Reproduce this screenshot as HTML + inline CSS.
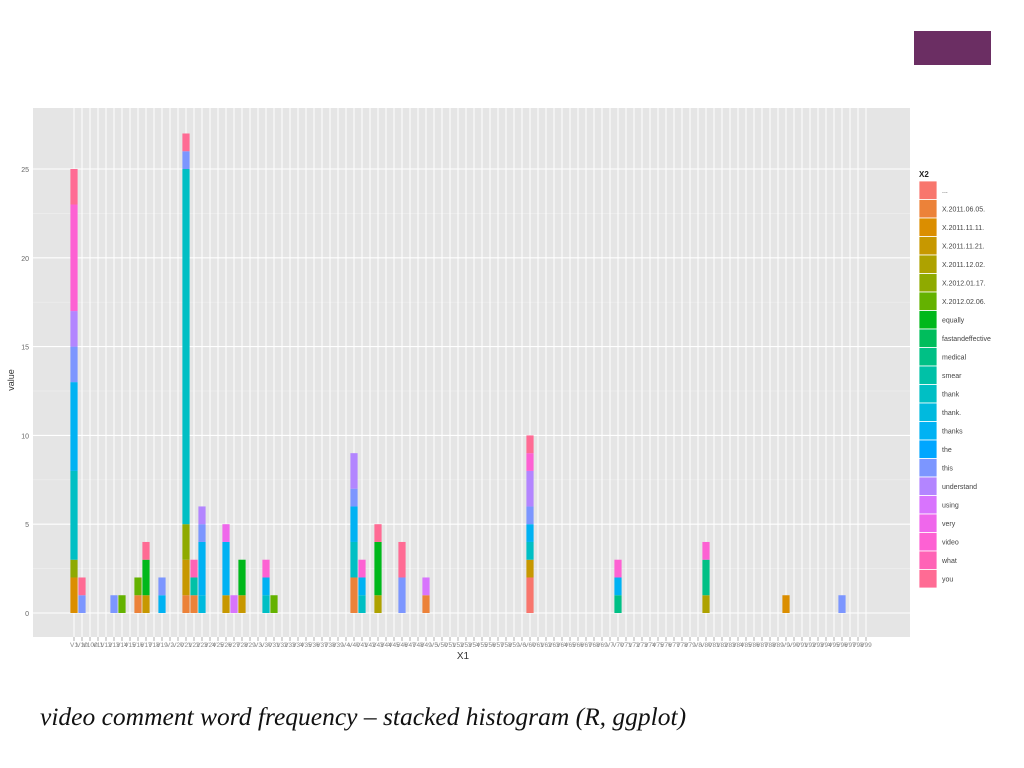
<!DOCTYPE html>
<html><head><meta charset="utf-8"><style>
body{margin:0;background:#fff;width:1024px;height:768px;overflow:hidden;position:relative;font-family:"Liberation Sans",sans-serif}
#cap{position:absolute;left:40px;top:702px;font-family:"Liberation Serif",serif;font-style:italic;font-size:25.5px;color:#111;white-space:nowrap}
#badge{position:absolute;left:914px;top:31px;width:77px;height:34px;background:#6b2e63}
</style></head><body>
<div id="badge"></div>
<svg id="chart" width="1024" height="700" style="position:absolute;left:0;top:0"></svg>
<div id="cap">video comment word frequency – stacked histogram (R, ggplot)</div>
<script>
const levels=["...","X.2011.06.05.","X.2011.11.11.","X.2011.11.21.","X.2011.12.02.","X.2012.01.17.","X.2012.02.06.","equally","fastandeffective","medical","smear","thank","thank.","thanks","the","this","understand","using","very","video","what","you"];
const barIndex=[0,1,5,6,8,9,11,14,15,16,19,20,21,24,25,35,36,38,41,44,57,68,79,89,96];
const barSegments=[
[[2,2],[5,1],[11,5],[13,5],[15,2],[16,2],[19,6],[21,2]],
[[15,1],[21,1]],
[[15,1]],
[[6,1]],
[[1,1],[6,1]],
[[3,1],[7,2],[21,1]],
[[13,1],[15,1]],
[[1,1],[3,2],[5,2],[11,20],[15,1],[21,1]],
[[1,1],[10,1],[20,1]],
[[12,1],[13,3],[15,1],[16,1]],
[[3,1],[13,3],[18,1]],
[[17,1]],
[[3,1],[7,2]],
[[11,1],[13,1],[19,1]],
[[6,1]],
[[1,2],[11,2],[13,2],[15,1],[16,2]],
[[11,1],[13,1],[19,1]],
[[4,1],[7,3],[21,1]],
[[15,2],[21,2]],
[[1,1],[17,1]],
[[0,2],[3,1],[11,1],[13,1],[15,1],[16,2],[19,1],[21,1]],
[[9,1],[13,1],[19,1]],
[[4,1],[9,2],[19,1]],
[[2,1]],
[[15,1]]
];
const yTicks=[0,5,10,15,20,25];
const nCats=100;

function hcl2(h,c,l){const hr=h*Math.PI/180,U=c*Math.cos(hr),V=c*Math.sin(hr);
const Xn=0.95047,Yn=1,Zn=1.08883,d=Xn+15*Yn+3*Zn,un=4*Xn/d,vn=9*Yn/d;
const Y=l>8?Math.pow((l+16)/116,3):l/903.3;const u=U/(13*l)+un,v=V/(13*l)+vn;
const X=9*Y*u/(4*v),Z=(12-3*u-20*v)*Y/(4*v);
let r=3.2406*X-1.5372*Y-0.4986*Z,g=-0.9689*X+1.8758*Y+0.0415*Z,b=0.0557*X-0.2040*Y+1.0570*Z;
const f=x=>{x=x<=0.0031308?12.92*x:1.055*Math.pow(x,1/2.4)-0.055;return Math.round(Math.max(0,Math.min(1,x))*255)};
return `rgb(${f(r)},${f(g)},${f(b)})`;}
const cols=levels.map((_,i)=>hcl2(15+i*360/levels.length,100,65));
const NS="http://www.w3.org/2000/svg",svg=document.getElementById('chart');
function mk(t,a,p){const e=document.createElementNS(NS,t);for(const k in a)e.setAttribute(k,a[k]);(p||svg).appendChild(e);return e;}
const PX0=33,PX1=910,PY0=108,PY1=637,X0=74,DX=8.0,Y0=613,UY=17.76;
const xs=i=>X0+i*DX, ys=v=>Y0-v*UY;
const panel=mk('rect',{x:PX0,y:PY0,width:PX1-PX0,height:PY1-PY0,fill:'#e5e5e5'});


for(let v=2.5;v<27.5;v+=5){mk('line',{x1:PX0,x2:PX1,y1:ys(v),y2:ys(v),stroke:'#f0f0f0','stroke-width':0.6});}
yTicks.forEach(v=>{mk('line',{x1:PX0,x2:PX1,y1:ys(v),y2:ys(v),stroke:'#fff','stroke-width':1.1});
const t=mk('text',{x:29,y:ys(v)+3,'font-size':7,fill:'#666','text-anchor':'end'});t.textContent=v;

});
const labs=[];for(let i=1;i<=nCats;i++)labs.push('V'+i);labs.sort();
for(let i=0;i<nCats;i++){const x=xs(i);mk('line',{x1:x,x2:x,y1:PY0,y2:PY1,stroke:'#fff','stroke-width':1});
mk('line',{x1:x,x2:x,y1:PY1,y2:PY1+4,stroke:'#777','stroke-width':0.6});
const t=mk('text',{x:x,y:PY1+10,'font-size':6.5,fill:'#888','text-anchor':'middle'});t.textContent=labs[i];

}
barIndex.forEach((ci,bi)=>{let acc=0;barSegments[bi].forEach(([lv,val])=>{
const r=mk('rect',{x:xs(ci)-3.6,width:7.2,y:ys(acc+val),height:val*UY,fill:cols[lv]});

acc+=val;});});
const yt=mk('text',{x:14,y:380,'font-size':9,fill:'#333','text-anchor':'middle',transform:'rotate(-90 14 380)'});yt.textContent='value';


const xt=mk('text',{x:463,y:659,'font-size':10,fill:'#333','text-anchor':'middle'});xt.textContent='X1';


const lt=mk('text',{x:919,y:177,'font-size':8,'font-weight':'bold',fill:'#222'});lt.textContent='X2';


const KH=18.5;
levels.forEach((lv,i)=>{const y=181+i*KH;
const k=mk('rect',{x:919,y:y,width:18,height:KH,fill:cols[i],stroke:'#fff','stroke-width':0.8});


const t=mk('text',{x:942,y:y+KH/2+2.5,'font-size':7,fill:'#444'});t.textContent=lv;

});
</script>
</body></html>
